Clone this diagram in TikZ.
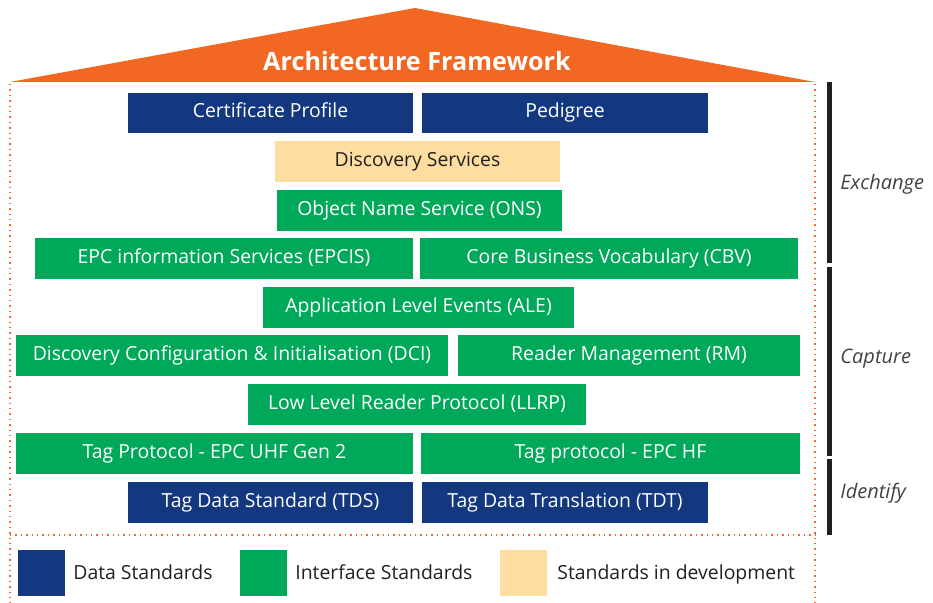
\documentclass[tikz,border=0pt]{standalone}
\usepackage{fontspec}
\setmainfont{Open Sans}
\usetikzlibrary{positioning}

\definecolor{epcnavy}{RGB}{20,56,128}
\definecolor{epcgreen}{RGB}{0,168,89}
\definecolor{epcbeige}{RGB}{253,221,160}
\definecolor{epcorange}{RGB}{242,103,34}
\definecolor{epcdark}{RGB}{35,31,32}

\begin{document}
\begin{tikzpicture}
[x = 0.5pt,
y = -0.5pt,
std/.style = {inner sep=0pt, outer sep=0pt, minimum height=20.5pt, text height=7.3pt, text depth=2.3pt, font=\fontsize{9.7}{12}\selectfont},
datastd/.style = {std, fill=epcnavy, text=white},
ifstd/.style = {std, fill=epcgreen, text=white},
devstd/.style = {std, fill=epcbeige, text=epcdark},
legbox/.style = {minimum width=23.5pt, minimum height=23pt},
layer/.style = {inner sep=0pt, font=\itshape\fontsize{10}{12}\selectfont, text=epcdark!85!white, anchor=base west},
legtext/.style = {inner sep=0pt, font=\fontsize{9.7}{12}\selectfont, text=epcdark, anchor=base west},
border/.style = {epcorange, dotted, line width=0.7pt}]
\useasboundingbox (0,0) rectangle (933,603);

% roof
\fill[epcorange] (10,82) -- (415,8) -- (815,82) -- cycle;
\node[text=white, anchor=base, font=\bfseries\fontsize{12.6}{15}\selectfont] (title) at (417,71) {Architecture Framework};

% dotted frame
\draw[border] (10,84) -- (10,603);
\draw[border] (815,84) -- (815,603);
\draw[border] (10,535) -- (815,535);

% standards
\node[datastd, minimum width=142.5pt, minimum height=20pt] (cert) at (270.5,113) {Certificate Profile};
\node[datastd, minimum width=143pt, minimum height=20pt] (pedigree) at (565,113) {Pedigree};
\node[devstd, minimum width=142.5pt] (disc) at (417.5,161.5) {Discovery Services};
\node[ifstd, minimum width=142.5pt] (ons) at (419.5,210.5) {Object Name Service (ONS)};
\node[ifstd, minimum width=189pt] (epcis) at (224,258.5) {EPC information Services (EPCIS)};
\node[ifstd, minimum width=189pt] (cbv) at (609,258.5) {Core Business Vocabulary (CBV)};
\node[ifstd, minimum width=155.5pt] (ale) at (418.5,307.5) {Application Level Events (ALE)};
\node[ifstd, minimum width=216pt] (dci) at (232,355.5) {Discovery Configuration \& Initialisation (DCI)};
\node[ifstd, minimum width=171pt] (rm) at (629,355.5) {Reader Management (RM)};
\node[ifstd, minimum width=169pt] (llrp) at (417,404.5) {Low Level Reader Protocol (LLRP)};
\node[ifstd, minimum width=198.5pt] (uhf) at (214.5,453.5) {Tag Protocol - EPC UHF Gen 2};
\node[ifstd, minimum width=189.5pt] (hf) at (610.5,453.5) {Tag protocol - EPC HF};
\node[datastd, minimum width=142.5pt] (tds) at (270.5,502.5) {Tag Data Standard (TDS)};
\node[datastd, minimum width=143pt] (tdt) at (565,502.5) {Tag Data Translation (TDT)};

% layers
\fill[epcdark] (827,82) rectangle (832,263);
\fill[epcdark] (827,267) rectangle (832,456);
\fill[epcdark] (827,459) rectangle (832,535);
\node[layer] (exch) at (840,190) {Exchange};
\node[layer] (capt) at (840,364) {Capture};
\node[layer] (ident) at (840,499) {Identify};

% legend
\node[datastd, legbox] (legdata) at (41.5,573) {};
\node[legtext] (legdatatext) at (73,580) {Data Standards};
\node[ifstd, legbox] (legif) at (263.5,573) {};
\node[legtext] (legiftext) at (295,580) {Interface Standards};
\node[devstd, legbox] (legdev) at (523,573) {};
\node[legtext] (legdevtext) at (557,580) {Standards in development};
\end{tikzpicture}
\end{document}
